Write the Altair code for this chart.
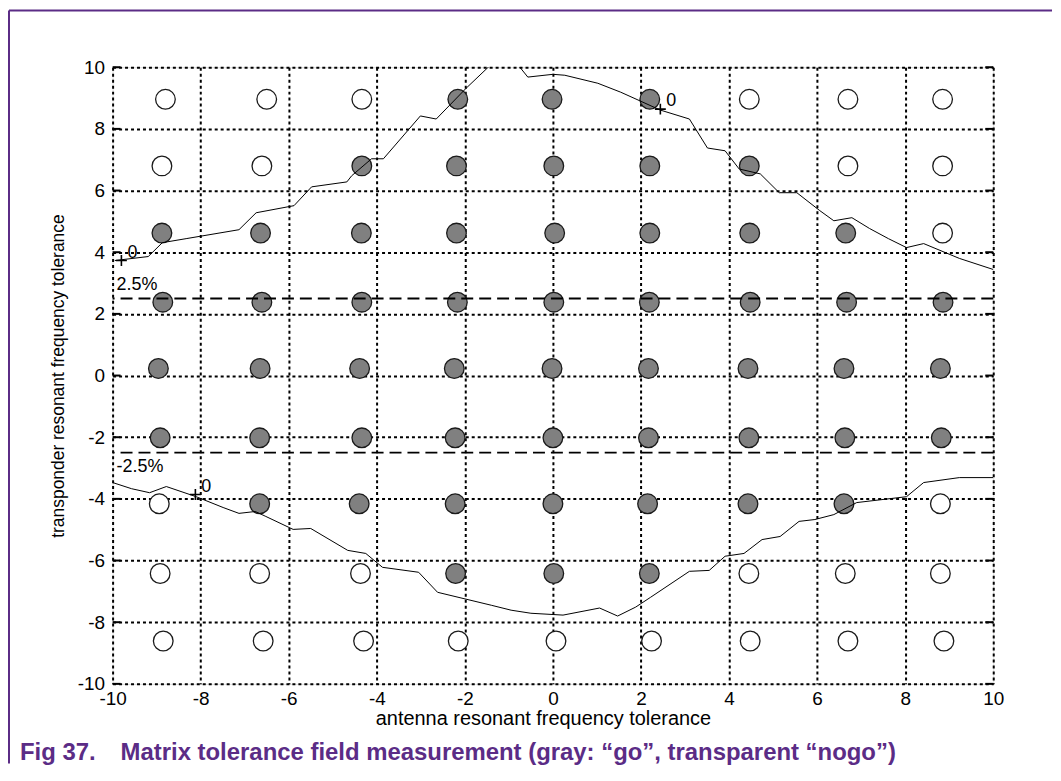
import altair as alt
import pandas as pd

# ---- data ----
row_y = [8.96, 6.80, 4.62, 2.38, 0.23, -2.02, -4.16, -6.42, -8.61]
row_x = [
    [-8.80, -6.50, -4.34, -2.16, -0.02, 2.20, 4.46, 6.70, 8.85],
    [-8.88, -6.61, -4.34, -2.19, 0.02, 2.20, 4.46, 6.70, 8.85],
    [-8.88, -6.64, -4.35, -2.19, 0.04, 2.20, 4.47, 6.65, 8.85],
    [-8.86, -6.61, -4.34, -2.17, 0.02, 2.19, 4.48, 6.67, 8.86],
    [-8.96, -6.65, -4.39, -2.24, -0.02, 2.17, 4.43, 6.61, 8.80],
    [-8.92, -6.66, -4.34, -2.22, 0.00, 2.17, 4.45, 6.63, 8.82],
    [-8.94, -6.66, -4.40, -2.22, 0.00, 2.15, 4.43, 6.61, 8.80],
    [-8.92, -6.66, -4.37, -2.21, 0.02, 2.19, 4.45, 6.64, 8.80],
    [-8.85, -6.58, -4.30, -2.15, 0.07, 2.24, 4.48, 6.70, 8.88],
]
# G = "go" (gray), N = "nogo" (transparent)
row_status = [
    "NNNGGGNNN",
    "NNGGGGGNN",
    "GGGGGGGGN",
    "GGGGGGGGG",
    "GGGGGGGGG",
    "GGGGGGGGG",
    "NGGGGGGGN",
    "NNNGGGNNN",
    "NNNNNNNNN",
]

upper_x = [-9.95, -9.19, -8.87, -8.33, -7.13, -6.74, -5.88, -5.48, -4.68, -4.57,
           -4.12, -3.85, -3.01, -2.65, -1.97, -1.47, -1.11, -0.75, -0.57, 0.00,
           0.27, 1.02, 1.54, 1.99, 2.44, 3.10, 3.51, 3.91, 4.23, 4.71,
           5.14, 5.54, 6.06, 6.38, 6.79, 7.19, 7.62, 8.03, 8.42, 9.23, 10.0]
upper_y = [3.73, 3.86, 4.31, 4.44, 4.73, 5.28, 5.51, 6.12, 6.28, 6.48,
           7.03, 7.03, 8.42, 8.32, 9.32, 10.0, 10.32, 10.0, 9.68, 9.77,
           9.74, 9.48, 9.19, 8.90, 8.61, 8.32, 7.38, 7.29, 6.70, 6.54,
           5.93, 5.93, 5.35, 5.02, 5.12, 4.77, 4.44, 4.15, 4.28, 3.80, 3.44]

lower_x = [-10.0, -9.57, -9.16, -8.78, -8.10, -7.49, -7.13, -6.76, -6.52, -5.90,
           -5.50, -4.66, -4.25, -3.87, -3.05, -2.62, -1.40, -0.95, -0.50, 0.23,
           1.06, 1.47, 1.88, 2.22, 3.10, 3.55, 3.91, 4.34, 4.75, 5.16,
           5.59, 5.95, 6.38, 6.90, 8.03, 8.42, 9.23, 10.0]
lower_y = [-3.47, -3.67, -3.80, -3.60, -3.93, -4.28, -4.47, -4.41, -4.57, -4.99,
           -4.96, -5.67, -5.77, -6.22, -6.38, -7.03, -7.45, -7.61, -7.71, -7.77,
           -7.54, -7.80, -7.51, -7.19, -6.35, -6.32, -5.86, -5.77, -5.32, -5.22,
           -4.73, -4.67, -4.51, -4.12, -3.93, -3.47, -3.31, -3.31]

cross_x = [-9.80, 2.44, -8.12]
cross_y = [3.73, 8.64, -3.86]
cross_text = ["0", "0", "0"]

limit_y = [2.5, -2.5]
limit_text = ["2.5%", "-2.5%"]

tick_vals = [-10, -8, -6, -4, -2, 0, 2, 4, 6, 8, 10]

x_title = "antenna resonant frequency tolerance"
y_title = "transponder resonant frequency tolerance"
caption_num = "Fig 37."
caption_text = "Matrix tolerance field measurement (gray: \u201cgo\u201d, transparent \u201cnogo\u201d)"

# ---- tables ----
pts = []
for yv, xs_, st in zip(row_y, row_x, row_status):
    for xv, s in zip(xs_, st):
        pts.append({"x": xv, "y": yv, "status": "go" if s == "G" else "nogo"})
pts = pd.DataFrame(pts)

curves = pd.concat([
    pd.DataFrame({"x": upper_x, "y": upper_y, "curve": "upper", "i": range(len(upper_x))}),
    pd.DataFrame({"x": lower_x, "y": lower_y, "curve": "lower", "i": range(len(lower_x))}),
])
crosses = pd.DataFrame({"x": cross_x, "y": cross_y, "t": cross_text})
limits = pd.DataFrame({"y": limit_y, "t": limit_text})
ticks = pd.DataFrame({"y": tick_vals})

FONT = "Liberation Sans"
W, H = 884, 619
xs = alt.Scale(domain=[-10, 10], nice=False, zero=False)
ys = alt.Scale(domain=[-10, 10], nice=False, zero=False)
LBL = "'' + datum.value"

xaxis = alt.Axis(values=tick_vals, title=x_title, grid=True, gridDash=[3, 3],
                 gridColor="black", gridWidth=2, gridOpacity=1, ticks=False, domain=False,
                 labelFont=FONT, labelFontSize=19, labelColor="black", labelPadding=6,
                 labelFlush=False, labelExpr=LBL,
                 titleFont=FONT, titleFontSize=20, titleFontWeight="normal", titleColor="black",
                 titleX=432, titleY=41, titleBaseline="alphabetic", titleAnchor="middle")
yaxis = alt.Axis(values=tick_vals, title=y_title, grid=True, gridDash=[3, 3],
                 gridColor="black", gridWidth=2, gridOpacity=1, ticks=False, domain=False,
                 labelFont=FONT, labelFontSize=19, labelColor="black", labelPadding=8,
                 labelFlush=False, labelExpr=LBL,
                 titleFont=FONT, titleFontSize=17.5, titleFontWeight="normal", titleColor="black",
                 titleX=-49, titleY=309.5, titleBaseline="alphabetic", titleAngle=-90)

circles = alt.Chart(pts).mark_point(filled=True, shape="circle", size=390,
                                    stroke="#1a1a1a", strokeWidth=1.3, opacity=1).encode(
    x=alt.X("x:Q", scale=xs, axis=xaxis),
    y=alt.Y("y:Q", scale=ys, axis=yaxis),
    fill=alt.Fill("status:N", scale=alt.Scale(domain=["go", "nogo"], range=["#808080", "#ffffff"]),
                  legend=None),
)

lines = alt.Chart(curves).mark_line(color="black", strokeWidth=1, clip=True).encode(
    x=alt.X("x:Q", scale=xs), y=alt.Y("y:Q", scale=ys), detail="curve:N", order="i:Q")

limit_rules = alt.Chart(limits).mark_rule(color="black", strokeWidth=2, strokeDash=[12, 6]).encode(
    y=alt.Y("y:Q", scale=ys))

lbl_up = alt.Chart(limits.iloc[[0]]).mark_text(font=FONT, fontSize=18, align="left",
                                                baseline="alphabetic", dx=4, dy=-8, color="black").encode(
    x=alt.value(0), y=alt.Y("y:Q", scale=ys), text="t:N")
lbl_dn = alt.Chart(limits.iloc[[1]]).mark_text(font=FONT, fontSize=18, align="left",
                                                baseline="alphabetic", dx=4, dy=19, color="black").encode(
    x=alt.value(0), y=alt.Y("y:Q", scale=ys), text="t:N")

cross_marks = alt.Chart(crosses).mark_point(shape="M-1,0L1,0M0,-1L0,1", size=120, filled=False,
                                            color="black", strokeWidth=1.6, opacity=1).encode(
    x=alt.X("x:Q", scale=xs), y=alt.Y("y:Q", scale=ys))
cross_lbl = alt.Chart(crosses).mark_text(font=FONT, fontSize=18, align="left", baseline="alphabetic",
                                         dx=6, dy=-3, color="black").encode(
    x=alt.X("x:Q", scale=xs), y=alt.Y("y:Q", scale=ys), text="t:N")

tick_l = alt.Chart(ticks).mark_rule(color="black", strokeWidth=2).encode(
    y=alt.Y("y:Q", scale=ys), x=alt.value(0), x2=alt.value(8))
tick_r = alt.Chart(ticks).mark_rule(color="black", strokeWidth=2).encode(
    y=alt.Y("y:Q", scale=ys), x=alt.value(W - 8), x2=alt.value(W))

one = pd.DataFrame({"a": [0]})
PURPLE = "#5b2c86"
border_v = alt.Chart(one).mark_rule(color=PURPLE, strokeWidth=2).encode(
    x=alt.value(-104), y=alt.value(-57), y2=alt.value(699))
border_h = alt.Chart(one).mark_rule(color=PURPLE, strokeWidth=2).encode(
    x=alt.value(-104), x2=alt.value(943), y=alt.value(-57))

cap1 = alt.Chart(pd.DataFrame({"t": [caption_num]})).mark_text(
    font=FONT, fontSize=24, fontWeight="bold", color=PURPLE, align="left", baseline="alphabetic").encode(
    x=alt.value(-93), y=alt.value(695), text="t:N")
cap2 = alt.Chart(pd.DataFrame({"t": [caption_text]})).mark_text(
    font=FONT, fontSize=24, fontWeight="bold", color=PURPLE, align="left", baseline="alphabetic").encode(
    x=alt.value(8), y=alt.value(695), text="t:N")

chart = alt.layer(
    circles, lines, limit_rules, tick_l, tick_r, lbl_up, lbl_dn, cross_marks, cross_lbl,
    border_v, border_h, cap1, cap2,
).properties(width=W, height=H, padding=0).configure_view(
    stroke="black", strokeWidth=2
).configure(background="white")

chart.save("out.html", embed_options={"renderer": "svg", "actions": False})
